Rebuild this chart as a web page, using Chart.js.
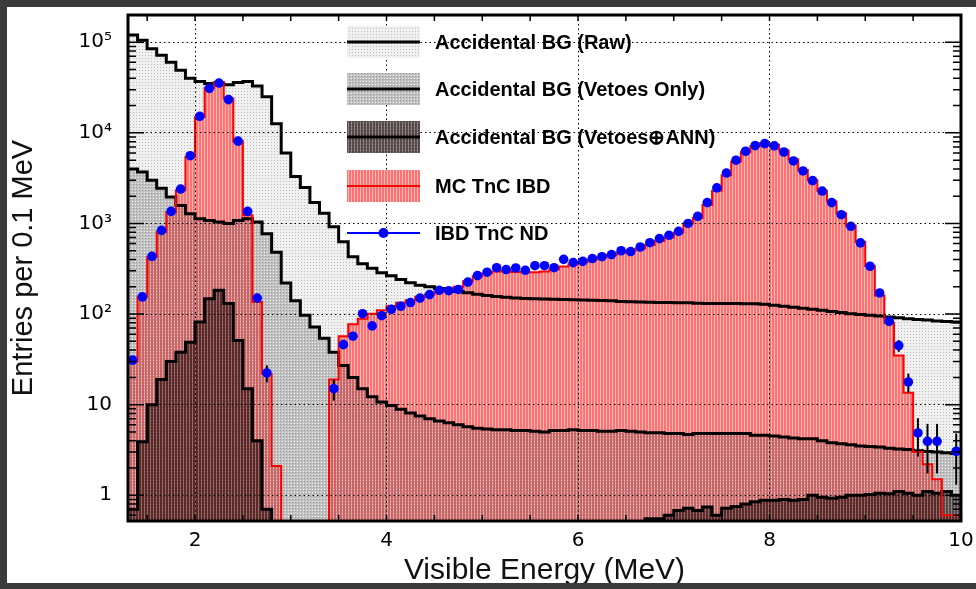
<!DOCTYPE html>
<html>
<head>
<meta charset="utf-8">
<title>Accidental BG vs IBD TnC</title>
<script src="https://cdn.jsdelivr.net/npm/chart.js@4"></script>
<style>
  html, body { margin: 0; padding: 0; background: #3b3b3b; }
  #panel { position: absolute; left: 7px; top: 7px; width: 969px; height: 576px; background: #fff; }
  canvas { display: block; }
</style>
</head>
<body>
<div id="panel"><canvas id="spectrum" width="969" height="576"></canvas></div>
<script>
// 0.1 MeV bins from 1.3 to 10.0 MeV
const xMin = 1.3, xMax = 10.0, binWidth = 0.1;
const yMin = 0.52, yMax = 2e5;

const xTickValues = [2, 4, 6, 8, 10];
const xTickLabels = ['2', '4', '6', '8', '10'];
const yTickValues = [1, 10, 100, 1e3, 1e4, 1e5];
const yTickLabels = ['1', '10', '10²', '10³', '10⁴', '10⁵'];

const legendLabels = ['Accidental BG (Raw)', 'Accidental BG (Vetoes Only)', 'Accidental BG (Vetoes⊕ANN)', 'MC TnC IBD', 'IBD TnC ND'];

// per-bin contents, one row = 10 bins (1.3-2.2, 2.3-3.2, ...)
const rawBG = [
  120000, 105000, 85000, 72000, 60000, 49000, 40000, 37000, 35000, 35000,
  34000, 36000, 37000, 33000, 25000, 12600, 6000, 3300, 2500, 1700,
  1300, 920, 630, 430, 360, 320, 285, 265, 240, 222,
  208, 200, 192, 185, 178, 172, 166, 160, 156, 153,
  150, 149, 148, 147, 146, 145, 144, 143, 142, 141,
  140, 138, 137, 136, 135, 134, 134, 133, 133, 132,
  131, 131, 131, 131, 130, 130, 128, 125, 122, 119,
  116, 113, 110, 107, 104, 101, 99, 97, 95, 93,
  91, 89, 87, 86, 84, 83, 82
];
const vetoBG = [
  4000, 3700, 3000, 2450, 1960, 1580, 1280, 1130, 1080, 1040,
  1000, 1080, 1130, 1040, 770, 480, 220, 140, 97, 72,
  54, 38, 27, 20, 15, 12.2, 10.7, 9.8, 8.9, 8.1,
  7.5, 7.0, 6.6, 6.3, 6.0, 5.7, 5.5, 5.4, 5.3, 5.3,
  5.2, 5.2, 5.1, 5.0, 5.2, 5.2, 5.3, 5.2, 5.2, 5.1,
  5.1, 5.2, 5.1, 5.0, 4.9, 4.9, 4.8, 4.8, 4.7, 4.8,
  4.8, 4.8, 4.8, 4.8, 4.8, 4.6, 4.6, 4.5, 4.4, 4.3,
  4.2, 4.2, 4.0, 3.8, 3.7, 3.6, 3.5, 3.45, 3.4, 3.3,
  3.25, 3.2, 3.1, 3.05, 3.0, 2.95, 2.9
];
const annBG = [
  0.7, 3.9, 10, 19, 30, 38, 49, 82, 148, 183,
  131, 51, 15, 4.0, 0.7, 0, 0, 0, 0, 0,
  0, 0, 0, 0, 0, 0, 0, 0, 0, 0,
  0, 0, 0, 0, 0, 0, 0, 0, 0, 0,
  0, 0, 0, 0, 0, 0, 0, 0, 0, 0,
  0, 0, 0, 0, 0.55, 0.55, 0.6, 0.68, 0.72, 0.68,
  0.74, 0.6, 0.72, 0.75, 0.8, 0.85, 0.88, 0.88, 0.9, 0.88,
  0.9, 1.0, 0.95, 0.93, 0.95, 1.0, 1.0, 1.02, 1.05, 1.04,
  1.1, 1.05, 1.0, 1.1, 1.05, 1.1, 1.0
];
const mcIBD = [
  30, 155, 427, 805, 1340, 2330, 5400, 15000, 31400, 36500,
  23900, 8100, 1230, 136, 22, 2.1, 0, 0, 0, 0,
  0, 19, 57, 77, 89, 101, 110, 122, 133, 142,
  155, 164, 176, 187, 200, 230, 262, 280, 295, 300,
  292, 290, 290, 295, 310, 335, 355, 375, 400, 425,
  450, 475, 500, 530, 580, 640, 700, 790, 1000, 1150,
  1600, 2300, 3400, 4800, 6100, 7100, 7700, 7400, 6400, 5100,
  3900, 3000, 2300, 1750, 1300, 950, 630, 340, 160, 80,
  35, 13.5, 3.0, 2.2, 1.5, 0.6, 0.6
];
// data points at bin centres (null = no entry)
const ndIBD = [
  31, 155, 433, 840, 1360, 2400, 5600, 15200, 31000, 35500,
  23300, 8100, 1360, 150, 22.4, null, null, null, null, null,
  null, 15, 46, 57, 101, 74, 96, 113, 122, 134,
  150, 164, 183, 181, 187, 225, 266, 290, 325, 310,
  323, 304, 342, 342, 325, 402, 370, 382, 410, 430,
  454, 500, 490, 550, 613, 680, 740, 820, 1000, 1200,
  1700, 2470, 3600, 4990, 6270, 7240, 7600, 7200, 6150, 4900,
  3800, 2970, 2280, 1700, 1250, 931, 610, 337, 171, 83,
  45, 17.8, 4.87, 3.94, 3.94, null, 3.06
];
const ndErr = [
  null, null, null, null, null, null, null, null, null, null,
  null, null, null, null, 4.7, null, null, null, null, null,
  null, 3.9, null, null, null, null, null, null, null, null,
  null, null, null, null, null, null, null, null, null, null,
  null, null, null, null, null, null, null, null, null, null,
  null, null, null, null, null, null, null, null, null, null,
  null, null, null, null, null, null, null, null, null, null,
  null, null, null, null, null, null, null, null, 13, 9.1,
  6.7, 4.2, 2.2, 2.2, 2.2, null, 1.75
];

const nBins = rawBG.length;
const edges = Array.from({length: nBins + 1}, (_, i) => +(xMin + i * binWidth).toFixed(2));
const centres = edges.slice(0, nBins).map(e => +(e + binWidth / 2).toFixed(2));

// empty bins are pushed far below the axis so the step drops off the plot
function stepPoints(values) {
  const pts = values.map((v, i) => ({x: edges[i], y: v > 0 ? v : 1e-3}));
  pts.push({x: edges[nBins], y: pts[nBins - 1].y});
  return pts;
}

const canvas = document.getElementById('spectrum');
const ctx = canvas.getContext('2d');

function makePattern(w, h, paint) {
  const tile = document.createElement('canvas');
  tile.width = w; tile.height = h;
  paint(tile.getContext('2d'));
  return ctx.createPattern(tile, 'repeat');
}
const rawPat = makePattern(3, 3, c => {
  c.fillStyle = '#f0f0f0'; c.fillRect(0, 0, 3, 3);
  c.fillStyle = '#bcbcbc'; c.fillRect(0, 0, 1, 1);
});
const mcPat = makePattern(3, 1, c => {
  c.fillStyle = '#ff7272'; c.fillRect(0, 0, 2, 1);
  c.fillStyle = '#ffb8b8'; c.fillRect(2, 0, 1, 1);
});
const vetoPat = makePattern(3, 3, c => {
  c.fillStyle = 'rgba(70,70,70,0.28)'; c.fillRect(0, 0, 3, 3);
  c.clearRect(2, 2, 1, 1);
  c.fillStyle = 'rgba(255,255,255,0.15)'; c.fillRect(2, 2, 1, 1);
});
const annPat = makePattern(3, 1, c => {
  c.fillStyle = 'rgba(25,5,5,0.62)'; c.fillRect(0, 0, 2, 1);
  c.fillStyle = 'rgba(25,5,5,0.38)'; c.fillRect(2, 0, 1, 1);
});

function fillSet(values, pattern, order) {
  return {data: stepPoints(values), stepped: true, fill: 'start', backgroundColor: pattern,
          borderColor: 'rgba(0,0,0,0)', borderWidth: 0, pointRadius: 0, order: order};
}
function lineSet(values, color, width, order) {
  return {data: stepPoints(values), stepped: true, fill: false, borderColor: color,
          borderWidth: width, pointRadius: 0, order: order};
}

const ndIndex = 8;

const errorBars = {
  id: 'errorBars',
  beforeDatasetDraw(chart, args) {
    if (args.index !== ndIndex) return;
    const {ctx, chartArea: a, scales: {x, y}} = chart;
    ctx.save();
    ctx.beginPath();
    ctx.rect(a.left, a.top, a.right - a.left, a.bottom - a.top);
    ctx.clip();
    ctx.strokeStyle = '#000';
    ctx.lineWidth = 2;
    ndErr.forEach((e, i) => {
      if (!e || ndIBD[i] == null) return;
      const px = x.getPixelForValue(centres[i]);
      ctx.beginPath();
      ctx.moveTo(px, y.getPixelForValue(ndIBD[i] + e));
      ctx.lineTo(px, y.getPixelForValue(Math.max(ndIBD[i] - e, 1e-3)));
      ctx.stroke();
    });
    ctx.restore();
  }
};

// thick frame with inward tick marks, like the original plot
const frame = {
  id: 'frame',
  afterDraw(chart) {
    const {ctx, chartArea: a, scales: {x, y}} = chart;
    ctx.save();
    ctx.strokeStyle = '#000';
    ctx.lineWidth = 1.5;
    ctx.beginPath();
    for (let e = -1; e <= 5; e++) {
      for (let m = 1; m <= 9; m++) {
        const v = m * Math.pow(10, e);
        if (v < y.min || v > y.max) continue;
        const py = y.getPixelForValue(v);
        const len = m === 1 ? 16 : 8;
        ctx.moveTo(a.left, py); ctx.lineTo(a.left + len, py);
        ctx.moveTo(a.right, py); ctx.lineTo(a.right - len, py);
      }
    }
    for (let k = 3; k <= 20; k++) {
      const px = x.getPixelForValue(k / 2);
      ctx.moveTo(px, a.top); ctx.lineTo(px, a.top + 6);
      ctx.moveTo(px, a.bottom); ctx.lineTo(px, a.bottom - 6);
    }
    ctx.stroke();
    ctx.lineWidth = 3;
    ctx.strokeRect(a.left, a.top, a.right - a.left, a.bottom - a.top);
    ctx.restore();
  }
};

const legendBox = {
  id: 'legendBox',
  afterDraw(chart) {
    const {ctx, chartArea: a} = chart;
    const bx = a.left + 219, bw = 73, bh = 32, tx = a.left + 307;
    const rows = [27, 74, 122, 171, 218];
    const fills = [[rawPat], [rawPat, vetoPat], [rawPat, vetoPat, annPat], [mcPat], []];
    const lines = [['#000', 3], ['#000', 3], ['#000', 3], ['#ff0000', 2], ['#0000ff', 2]];
    ctx.save();
    rows.forEach((dy, i) => {
      const cy = a.top + dy;
      fills[i].forEach(p => { ctx.fillStyle = p; ctx.fillRect(bx, cy - bh / 2, bw, bh); });
      ctx.strokeStyle = lines[i][0];
      ctx.lineWidth = lines[i][1];
      ctx.beginPath();
      ctx.moveTo(bx, cy); ctx.lineTo(bx + bw, cy);
      ctx.stroke();
      if (i === 4) {
        ctx.fillStyle = '#0000ff';
        ctx.beginPath();
        ctx.arc(bx + bw / 2, cy, 5, 0, Math.PI * 2);
        ctx.fill();
      }
      ctx.fillStyle = '#000';
      ctx.font = 'bold 20px "Liberation Sans", Arial, sans-serif';
      ctx.textBaseline = 'middle';
      ctx.fillText(legendLabels[i], tx, cy + 1);
    });
    ctx.restore();
  }
};

new Chart(ctx, {
  type: 'line',
  data: {
    datasets: [
      fillSet(rawBG, rawPat, 10),
      fillSet(mcIBD, mcPat, 9),
      fillSet(vetoBG, vetoPat, 8),
      fillSet(annBG, annPat, 7),
      lineSet(rawBG, '#000', 3, 6),
      lineSet(vetoBG, '#000', 3, 5),
      lineSet(annBG, '#000', 3, 4),
      lineSet(mcIBD, '#ff0000', 2, 3),
      {
        data: ndIBD.map((v, i) => ({x: centres[i], y: v})),
        showLine: false,
        pointRadius: 4.8,
        pointBackgroundColor: '#0000ff',
        pointBorderColor: '#0000ff',
        pointBorderWidth: 0,
        order: 1
      }
    ]
  },
  options: {
    responsive: false,
    animation: false,
    events: [],
    devicePixelRatio: 1,
    layout: {padding: {left: 0, top: 8, right: 15, bottom: 0}},
    plugins: {legend: {display: false}, tooltip: {enabled: false}},
    scales: {
      x: {
        type: 'linear',
        min: xMin,
        max: xMax,
        afterBuildTicks: s => { s.ticks = xTickValues.map(v => ({value: v})); },
        afterFit: s => { s.height = 62; s.paddingLeft = 0; s.paddingRight = 0; },
        ticks: {
          callback: (v, i) => xTickLabels[i],
          font: {family: '"DejaVu Sans", sans-serif', size: 20},
          color: '#000',
          padding: 8,
          maxRotation: 0,
          autoSkip: false
        },
        grid: {color: '#000', lineWidth: 1, drawTicks: false, z: 1},
        border: {display: false, dash: [1.5, 3]},
        title: {
          display: true,
          text: 'Visible Energy (MeV)',
          color: '#111',
          font: {family: '"Liberation Sans", Arial, sans-serif', size: 30, lineHeight: 0.8},
          padding: 0
        }
      },
      y: {
        type: 'logarithmic',
        min: yMin,
        max: yMax,
        afterBuildTicks: s => { s.ticks = yTickValues.map(v => ({value: v})); },
        afterFit: s => { s.width = 121; s.paddingTop = 0; s.paddingBottom = 0; },
        ticks: {
          callback: (v, i) => yTickLabels[i],
          font: {family: '"DejaVu Sans", sans-serif', size: 20},
          color: '#000',
          padding: 16,
          autoSkip: false
        },
        grid: {color: '#000', lineWidth: 1, drawTicks: false, z: 1},
        border: {display: false, dash: [1.5, 3]},
        title: {
          display: true,
          text: 'Entries per 0.1 MeV',
          color: '#111',
          font: {family: '"Liberation Sans", Arial, sans-serif', size: 29},
          padding: 0
        }
      }
    }
  },
  plugins: [errorBars, frame, legendBox]
});
</script>
</body>
</html>
